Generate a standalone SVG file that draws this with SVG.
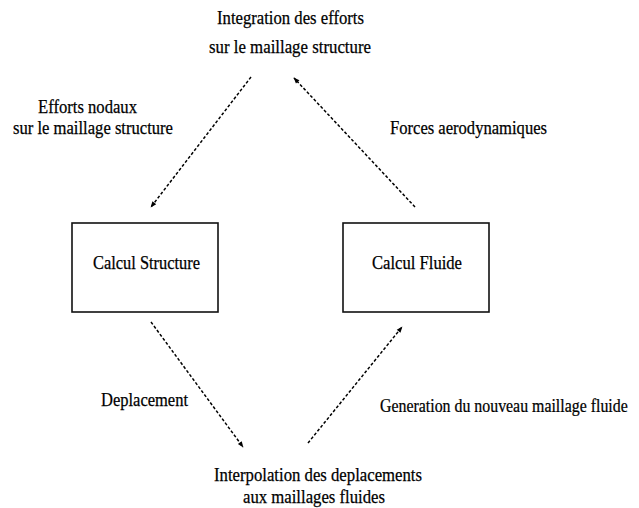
<svg xmlns="http://www.w3.org/2000/svg" width="639" height="508" viewBox="0 0 639 508">
<style>
text{font-family:"Liberation Serif","Times New Roman",serif;font-size:19px;fill:#000;stroke:#000;stroke-width:0.25;}
.box{fill:#fff;stroke:#111;stroke-width:1.6;}
.conn{fill:none;stroke:#000;stroke-width:1.5;stroke-dasharray:3 2;}
</style>
<defs>
<marker id="ah" viewBox="0 0 10 10" refX="9" refY="5" markerWidth="7" markerHeight="6" markerUnits="userSpaceOnUse" orient="auto"><path d="M0,1 L10,5 L0,9 z" fill="#000"/></marker>
</defs>
<rect width="639" height="508" fill="#fff"/>
<g id="connectors">
<line class="conn" x1="251" y1="77" x2="151" y2="207" marker-end="url(#ah)"/>
<line class="conn" x1="415" y1="207" x2="294" y2="78" marker-end="url(#ah)"/>
<line class="conn" x1="151" y1="322" x2="243" y2="447" marker-end="url(#ah)"/>
<line class="conn" x1="308" y1="443" x2="402" y2="327" marker-end="url(#ah)"/>
</g>
<g id="integration">
<text x="217" y="24" textLength="147" lengthAdjust="spacingAndGlyphs">Integration des efforts</text>
<text x="209" y="53" textLength="162" lengthAdjust="spacingAndGlyphs">sur le maillage structure</text>
</g>
<g id="calcul-structure">
<rect class="box" x="72" y="223" width="146" height="89"/>
<text x="93" y="269" textLength="107" lengthAdjust="spacingAndGlyphs">Calcul Structure</text>
</g>
<g id="calcul-fluide">
<rect class="box" x="343" y="223" width="146" height="89"/>
<text x="372" y="269" textLength="90" lengthAdjust="spacingAndGlyphs">Calcul Fluide</text>
</g>
<g id="interpolation">
<text x="214" y="481" textLength="208" lengthAdjust="spacingAndGlyphs">Interpolation des deplacements</text>
<text x="243" y="503" textLength="142" lengthAdjust="spacingAndGlyphs">aux maillages fluides</text>
</g>
<g id="labels">
<text x="38" y="113" textLength="99" lengthAdjust="spacingAndGlyphs">Efforts nodaux</text>
<text x="13" y="134" textLength="160" lengthAdjust="spacingAndGlyphs">sur le maillage structure</text>
<text x="390" y="134" textLength="157" lengthAdjust="spacingAndGlyphs">Forces aerodynamiques</text>
<text x="101" y="406" textLength="87" lengthAdjust="spacingAndGlyphs">Deplacement</text>
<text transform="translate(380,412) scale(0.836,1)" x="0" y="0">Generation du nouveau maillage fluide</text>
</g>
</svg>
